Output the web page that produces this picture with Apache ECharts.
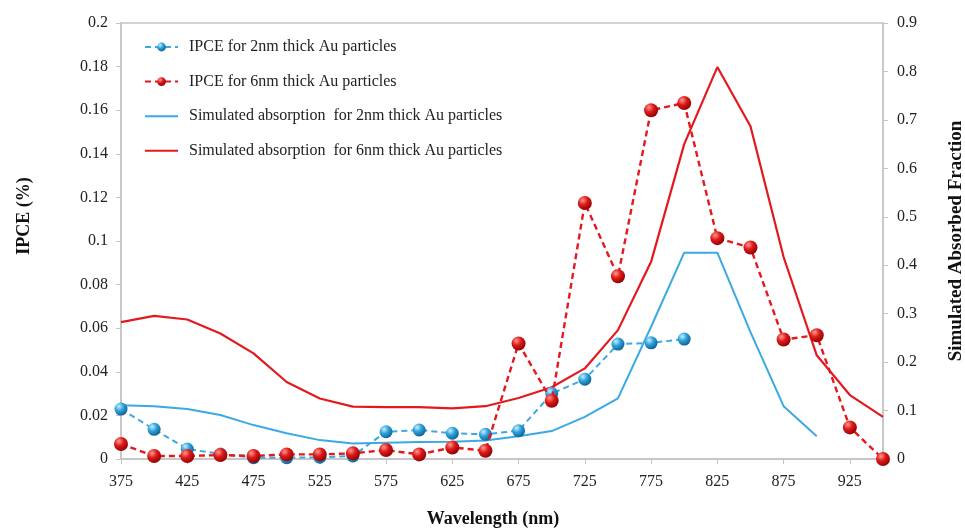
<!DOCTYPE html>
<html>
<head>
<meta charset="utf-8">
<style>
  html, body { margin: 0; padding: 0; background: #fff; }
  #chart { width: 965px; height: 529px; }
</style>
<script src="https://cdn.jsdelivr.net/npm/echarts@6/dist/echarts.min.js"></script>
</head>
<body>
<div id="chart"></div>
<script>
// Wavelength categories (nm)
var wavelengths = ['375','400','425','450','475','500','525','550','575','600','625','650',
                   '675','700','725','750','775','800','825','850','875','900','925','950'];

// Measured IPCE (%)
var ipce2nm = [0.0229,0.0136,0.0046,0.0023,0.0006,0.0006,0.0008,0.0014,0.0125,0.0133,0.0118,0.0113,
               0.0130,0.0300,0.0366,0.0527,0.0533,0.0550,null,null,null,null,null,null];
var ipce6nm = [0.0069,0.0014,0.0014,0.0018,0.0014,0.0021,0.0021,0.0026,0.0041,0.0021,0.0053,0.0038,
               0.0530,0.0267,0.1174,0.0838,0.1600,0.1633,0.1013,0.0970,0.0548,0.0568,0.0145,0];

// Simulated absorbed fraction
var sim2nm = [0.111,0.109,0.103,0.0907,0.070,0.053,0.039,0.032,0.0336,0.035,0.0357,0.038,
              0.047,0.0577,0.087,0.125,0.273,0.426,0.426,0.262,0.109,0.047,null,null];
var sim6nm = [0.2825,0.2955,0.288,0.259,0.218,0.159,0.125,0.108,0.107,0.107,0.1045,0.109,
              0.126,0.148,0.187,0.266,0.407,0.650,0.809,0.687,0.417,0.214,0.132,0.087];

var leftTicks = { min: 0, max: 0.2, interval: 0.02 };
var rightTicks = { min: 0, max: 0.9, interval: 0.1 };

var FONT = 'Liberation Serif';
var BLUE_LINE = '#3aa9e4';
var RED_LINE = '#e2191e';

var NAME_IPCE2 = 'IPCE for 2nm thick Au particles';
var NAME_IPCE6 = 'IPCE for 6nm thick Au particles';
var NAME_SIM2 = 'Simulated absorption  for 2nm thick Au particles';
var NAME_SIM6 = 'Simulated absorption  for 6nm thick Au particles';

function sphere(light, mid, dark) {
  return {
    type: 'radial', x: 0.35, y: 0.3, r: 0.75,
    colorStops: [
      { offset: 0, color: light },
      { offset: 0.45, color: mid },
      { offset: 1, color: dark }
    ]
  };
}

var chart = echarts.init(document.getElementById('chart'), null, { renderer: 'canvas' });

chart.setOption({
  animation: false,
  backgroundColor: '#fff',
  textStyle: { fontFamily: FONT },
  grid: {
    left: 121, right: 82, top: 23, bottom: 70,
    containLabel: false,
    outerBoundsMode: 'none',
    show: true, borderColor: '#c4c4c4', borderWidth: 1.5
  },
  legend: {
    orient: 'vertical',
    left: 139, top: 34,
    itemWidth: 33, itemHeight: 11,
    itemGap: 18.6,
    textStyle: { fontFamily: FONT, fontSize: 16, color: '#222', padding: [0, 0, 0, 6] },
    data: [
      { name: NAME_IPCE2 },
      { name: NAME_IPCE6 },
      { name: NAME_SIM2, itemStyle: { opacity: 0 } },
      { name: NAME_SIM6, itemStyle: { opacity: 0 } }
    ]
  },
  xAxis: {
    type: 'category',
    data: wavelengths,
    boundaryGap: false,
    axisLine: { lineStyle: { color: '#c4c4c4', width: 1.5 } },
    axisTick: { interval: 1, length: 5, lineStyle: { color: '#c4c4c4' } },
    axisLabel: { interval: 1, margin: 15, fontFamily: FONT, fontSize: 16, color: '#222' },
    name: 'Wavelength (nm)',
    nameLocation: 'middle',
    nameGap: 51,
    nameTextStyle: { fontFamily: FONT, fontSize: 18, fontWeight: 'bold', color: '#111', padding: [0, 18, 0, 0] }
  },
  yAxis: [
    {
      type: 'value',
      min: leftTicks.min, max: leftTicks.max, interval: leftTicks.interval,
      position: 'left',
      splitLine: { show: false },
      axisLine: { show: true, lineStyle: { color: '#c4c4c4', width: 1.5 } },
      axisTick: { show: true, length: 5, lineStyle: { color: '#c4c4c4' } },
      axisLabel: { margin: 13, fontFamily: FONT, fontSize: 16, color: '#222' },
      name: 'IPCE (%)',
      nameLocation: 'middle',
      nameRotate: 90,
      nameGap: 88,
      nameTextStyle: { fontFamily: FONT, fontSize: 18, fontWeight: 'bold', color: '#111', padding: [0, 0, 0, 50] }
    },
    {
      type: 'value',
      min: rightTicks.min, max: rightTicks.max, interval: rightTicks.interval,
      position: 'right',
      splitLine: { show: false },
      axisLine: { show: true, lineStyle: { color: '#c4c4c4', width: 1.5 } },
      axisTick: { show: true, length: 5, lineStyle: { color: '#c4c4c4' } },
      axisLabel: { margin: 14, fontFamily: FONT, fontSize: 16, color: '#222' },
      name: 'Simulated Absorbed Fraction',
      nameLocation: 'middle',
      nameRotate: 90,
      nameGap: 64,
      nameTextStyle: { fontFamily: FONT, fontSize: 19, fontWeight: 'bold', color: '#111' }
    }
  ],
  series: [
    {
      name: NAME_SIM2,
      type: 'line', yAxisIndex: 1, data: sim2nm,
      symbol: 'none', z: 2,
      lineStyle: { color: BLUE_LINE, width: 2 },
      itemStyle: { color: BLUE_LINE }
    },
    {
      name: NAME_SIM6,
      type: 'line', yAxisIndex: 1, data: sim6nm,
      symbol: 'none', z: 2,
      lineStyle: { color: RED_LINE, width: 2.2 },
      itemStyle: { color: RED_LINE }
    },
    {
      name: NAME_IPCE2,
      type: 'line', yAxisIndex: 0, data: ipce2nm,
      symbol: 'circle', symbolSize: 13, z: 4,
      lineStyle: { color: BLUE_LINE, width: 2, type: [6, 4] },
      itemStyle: { color: sphere('#c8f0ff', '#2ea2dc', '#0c5d8e') }
    },
    {
      name: NAME_IPCE6,
      type: 'line', yAxisIndex: 0, data: ipce6nm,
      symbol: 'circle', symbolSize: 14, z: 5,
      lineStyle: { color: RED_LINE, width: 2.4, type: [6, 4] },
      itemStyle: { color: sphere('#ff9a90', '#de1a1a', '#8c0000') }
    }
  ]
});
</script>
</body>
</html>
